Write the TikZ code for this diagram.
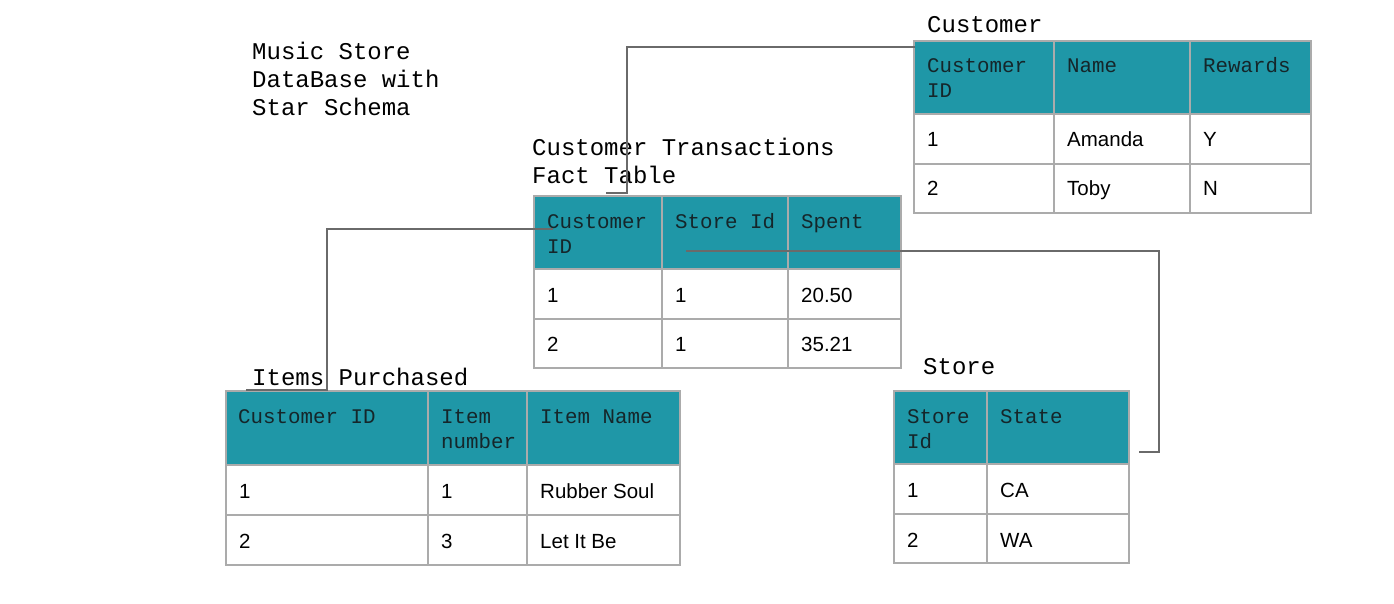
\documentclass[tikz,border=0pt]{standalone}
\usepackage{fontspec}
\setmainfont{Liberation Sans}
\newfontfamily\monof{Liberation Mono}
\definecolor{tealh}{HTML}{1F97A7}
\definecolor{gridc}{HTML}{ABABAB}
\definecolor{linec}{HTML}{6A6A6A}
\definecolor{hdtxt}{HTML}{15262A}
\newcommand\mkcell[6]{\node[#6, minimum width=#4, minimum height=#5] (#1) at (#2,#3) {};}
\begin{document}
\begin{tikzpicture}[x=1pt,y=-1pt,
  cellbase/.style={draw=gridc, line width=1.4pt, anchor=north west, inner sep=0pt, outer sep=0pt},
  hcell/.style={cellbase, fill=tealh},
  bcell/.style={cellbase, fill=white},
  ttl/.style={font=\monof\fontsize{24}{28}\selectfont, text=black, inner sep=0pt, anchor=base west},
  hd/.style={font=\monof\fontsize{20.8}{24}\selectfont, text=hdtxt, inner sep=0pt, anchor=base west},
  bd/.style={font=\fontsize{20.5}{24}\selectfont, text=black, inner sep=0pt, anchor=base west},
  conn/.style={draw=linec, line width=1.4pt}]
\useasboundingbox (0,0) rectangle (1394,604);

% ---------- titles ----------
\node[ttl] (t1) at (252,60) {Music Store};
\node[ttl] (t2) at (252,88) {DataBase with};
\node[ttl] (t3) at (252,116) {Star Schema};
\node[ttl] (tcu) at (927,33) {Customer};
\node[ttl] (tfa1) at (532,156) {Customer Transactions};
\node[ttl] (tfa2) at (532,184) {Fact Table};
\node[ttl] (tit) at (252,385) {Items Purchased};
\node[ttl] (tst) at (923,374) {Store};

% ---------- Customer table ----------
\mkcell{cuh1}{914}{41}{140}{73}{hcell}
\mkcell{cuh2}{1054}{41}{136}{73}{hcell}
\mkcell{cuh3}{1190}{41}{121}{73}{hcell}
\mkcell{cua1}{914}{114}{140}{50}{bcell}
\mkcell{cua2}{1054}{114}{136}{50}{bcell}
\mkcell{cua3}{1190}{114}{121}{50}{bcell}
\mkcell{cub1}{914}{164}{140}{49}{bcell}
\mkcell{cub2}{1054}{164}{136}{49}{bcell}
\mkcell{cub3}{1190}{164}{121}{49}{bcell}
\node[hd] (cuh1t) at ([shift={(13,32)}]cuh1.north west) {Customer};
\node[hd] (cuh1u) at ([shift={(13,57)}]cuh1.north west) {ID};
\node[hd] (cuh2t) at ([shift={(13,32)}]cuh2.north west) {Name};
\node[hd] (cuh3t) at ([shift={(13,32)}]cuh3.north west) {Rewards};
\node[bd] (cua1t) at ([shift={(13,33)}]cua1.north west) {1};
\node[bd] (cua2t) at ([shift={(13,33)}]cua2.north west) {Amanda};
\node[bd] (cua3t) at ([shift={(13,33)}]cua3.north west) {Y};
\node[bd] (cub1t) at ([shift={(13,32)}]cub1.north west) {2};
\node[bd] (cub2t) at ([shift={(13,32)}]cub2.north west) {Toby};
\node[bd] (cub3t) at ([shift={(13,32)}]cub3.north west) {N};

% ---------- Fact table ----------
\mkcell{fah1}{534}{196}{128}{73}{hcell}
\mkcell{fah2}{662}{196}{126}{73}{hcell}
\mkcell{fah3}{788}{196}{113}{73}{hcell}
\mkcell{faa1}{534}{269}{128}{50}{bcell}
\mkcell{faa2}{662}{269}{126}{50}{bcell}
\mkcell{faa3}{788}{269}{113}{50}{bcell}
\mkcell{fab1}{534}{319}{128}{49}{bcell}
\mkcell{fab2}{662}{319}{126}{49}{bcell}
\mkcell{fab3}{788}{319}{113}{49}{bcell}
\node[hd] (fah1t) at ([shift={(13,32)}]fah1.north west) {Customer};
\node[hd] (fah1u) at ([shift={(13,57)}]fah1.north west) {ID};
\node[hd] (fah2t) at ([shift={(13,32)}]fah2.north west) {Store Id};
\node[hd] (fah3t) at ([shift={(13,32)}]fah3.north west) {Spent};
\node[bd] (faa1t) at ([shift={(13,33)}]faa1.north west) {1};
\node[bd] (faa2t) at ([shift={(13,33)}]faa2.north west) {1};
\node[bd] (faa3t) at ([shift={(13,33)}]faa3.north west) {20.50};
\node[bd] (fab1t) at ([shift={(13,32)}]fab1.north west) {2};
\node[bd] (fab2t) at ([shift={(13,32)}]fab2.north west) {1};
\node[bd] (fab3t) at ([shift={(13,32)}]fab3.north west) {35.21};

% ---------- Items Purchased table ----------
\mkcell{ith1}{226}{391}{202}{74}{hcell}
\mkcell{ith2}{428}{391}{99}{74}{hcell}
\mkcell{ith3}{527}{391}{153}{74}{hcell}
\mkcell{ita1}{226}{465}{202}{50}{bcell}
\mkcell{ita2}{428}{465}{99}{50}{bcell}
\mkcell{ita3}{527}{465}{153}{50}{bcell}
\mkcell{itb1}{226}{515}{202}{50}{bcell}
\mkcell{itb2}{428}{515}{99}{50}{bcell}
\mkcell{itb3}{527}{515}{153}{50}{bcell}
\node[hd] (ith1t) at ([shift={(12,32)}]ith1.north west) {Customer ID};
\node[hd] (ith2t) at ([shift={(13,32)}]ith2.north west) {Item};
\node[hd] (ith2u) at ([shift={(13,57)}]ith2.north west) {number};
\node[hd] (ith3t) at ([shift={(13,32)}]ith3.north west) {Item Name};
\node[bd] (ita1t) at ([shift={(13,33)}]ita1.north west) {1};
\node[bd] (ita2t) at ([shift={(13,33)}]ita2.north west) {1};
\node[bd] (ita3t) at ([shift={(13,33)}]ita3.north west) {Rubber Soul};
\node[bd] (itb1t) at ([shift={(13,33)}]itb1.north west) {2};
\node[bd] (itb2t) at ([shift={(13,33)}]itb2.north west) {3};
\node[bd] (itb3t) at ([shift={(13,33)}]itb3.north west) {Let It Be};

% ---------- Store table ----------
\mkcell{sth1}{894}{391}{93}{73}{hcell}
\mkcell{sth2}{987}{391}{142}{73}{hcell}
\mkcell{sta1}{894}{464}{93}{50}{bcell}
\mkcell{sta2}{987}{464}{142}{50}{bcell}
\mkcell{stb1}{894}{514}{93}{49}{bcell}
\mkcell{stb2}{987}{514}{142}{49}{bcell}
\node[hd] (sth1t) at ([shift={(13,32)}]sth1.north west) {Store};
\node[hd] (sth1u) at ([shift={(13,57)}]sth1.north west) {Id};
\node[hd] (sth2t) at ([shift={(13,32)}]sth2.north west) {State};
\node[bd] (sta1t) at ([shift={(13,33)}]sta1.north west) {1};
\node[bd] (sta2t) at ([shift={(13,33)}]sta2.north west) {CA};
\node[bd] (stb1t) at ([shift={(13,33)}]stb1.north west) {2};
\node[bd] (stb2t) at ([shift={(13,33)}]stb2.north west) {WA};

% ---------- connectors ----------
\coordinate (c1a) at (915,47);
\coordinate (c1b) at (606,193);
\draw[conn] (c1a) -- (627,47) -- (627,193) -- (c1b);
\coordinate (c2a) at (553,229);
\coordinate (c2b) at (246,390);
\draw[conn] (c2a) -- (327,229) -- (327,390) -- (c2b);
\coordinate (c3a) at (686,251);
\coordinate (c3b) at (1139,452);
\draw[conn] (c3a) -- (1159,251) -- (1159,452) -- (c3b);
\end{tikzpicture}
\end{document}
